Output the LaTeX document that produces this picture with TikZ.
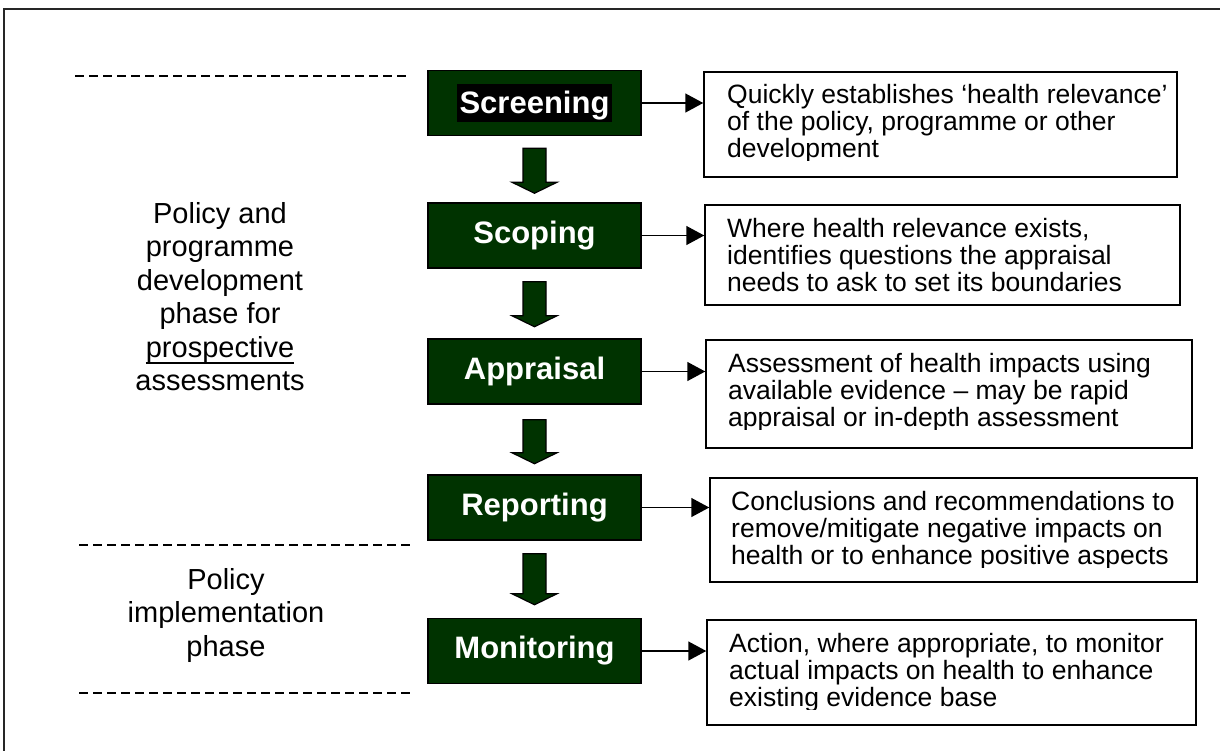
\documentclass[tikz,border=0pt]{standalone}
\usepackage{fontspec}
\setmainfont{Liberation Sans}
\usetikzlibrary{arrows.meta}
\definecolor{dkgreen}{HTML}{003300}
\newsavebox\ulbox
\newcommand\myul[1]{\sbox\ulbox{#1}\rlap{\rule[-7pt]{\wd\ulbox}{2.5pt}}\usebox\ulbox}
\begin{document}
\begin{tikzpicture}[x=1pt,y=-1pt,
  gbox/.style={draw=black, line width=1.5pt, fill=dkgreen, text=white,
    font=\fontsize{31}{36}\selectfont\bfseries, minimum width=213pt,
    minimum height=65pt, inner sep=0pt},
  dbox/.style={draw=black, line width=1.5pt, fill=white, inner sep=0pt},
  dtext/.style={font=\fontsize{26.5}{27}\selectfont, align=left, inner sep=0pt, anchor=base west},
  ltext/.style={font=\fontsize{29}{33.5}\selectfont, align=center, inner sep=0pt, anchor=base},
  harrow/.style={line width=1.5pt, -{Triangle[length=18pt,width=19pt]}},
  darrow/.style={draw=black, line width=1.2pt, fill=dkgreen},
  phase/.style={line width=2pt, dash pattern=on 9pt off 5pt},
  pics/blockarrow/.style={code={
    \path[darrow] (-11.5,0) -- (11.5,0) -- (11.5,#1) -- (22.5,#1) -- (0,#1+11)
      -- (-22.5,#1) -- (-11.5,#1) -- cycle;}}
]
\useasboundingbox (0,0) rectangle (1220,750);
% frame
\draw[line width=2pt, black!85] (4,760) -- (4,9) -- (1240,9);

% phase separators
\draw[phase] (75,76) -- (406,76);
\draw[phase] (79,545) -- (410,545);
\draw[phase] (79,693) -- (410,693);

% left texts (anchor base = baseline of last line)
\node[ltext] (dev) at (220,390.5) {Policy and\\programme\\development\\phase for\\\myul{prospective}\\assessments};
\node[ltext] (impl) at (226,656) {Policy\\implementation\\phase};

% green step boxes
\node[gbox] (scr) at (534.5,103) {\setlength\fboxsep{0pt}\colorbox{black}{\rule[-9pt]{0pt}{38pt}\hspace{3pt}Screening\hspace{3pt}}};
\node[gbox] (sco) at (534.5,235.5) {Scoping};
\node[gbox] (app) at (534.5,371.5) {Appraisal};
\node[gbox] (rep) at (534.5,507.5) {Reporting};
\node[gbox] (mon) at (534.5,651) {Monitoring};

% block arrows
\path (scr.south) ++(0,12) pic {blockarrow=34};
\path (sco.south) ++(0,13) pic {blockarrow=34};
\path (app.south) ++(0,15) pic {blockarrow=33};
\path (rep.south) ++(0,13) pic {blockarrow=40};

% description boxes
\node[dbox, minimum width=473pt, minimum height=105pt] (d1) at (940.5,124.5) {};
\node[dbox, minimum width=475pt, minimum height=100pt] (d2) at (942.5,255) {};
\node[dbox, minimum width=486pt, minimum height=108pt] (d3) at (949,394) {};
\node[dbox, minimum width=487pt, minimum height=104pt] (d4) at (953.5,530) {};
\node[dbox, minimum width=489pt, minimum height=105pt] (d5) at (951.5,672.5) {};

\begin{scope}
\clip (700,60) rectangle (1200,160);
\node[dtext] (t1) at (727,157) {Quickly establishes ‘health relevance’\\of the policy, programme or other\\development};
\end{scope}
\begin{scope}
\clip (700,200) rectangle (1200,295);
\node[dtext] (t2) at (727,291) {Where health relevance exists,\\identifies questions the appraisal\\needs to ask to set its boundaries};
\end{scope}
\begin{scope}
\clip (700,330) rectangle (1200,429);
\node[dtext] (t3) at (728,426) {Assessment of health impacts using\\available evidence – may be rapid\\appraisal or in-depth assessment};
\end{scope}
\begin{scope}
\clip (700,470) rectangle (1200,567);
\node[dtext] (t4) at (731,564) {Conclusions and recommendations to\\remove/mitigate negative impacts on\\health or to enhance positive aspects};
\end{scope}
\begin{scope}
\clip (700,610) rectangle (1200,709);
\node[dtext] (t5) at (729,706) {Action, where appropriate, to monitor\\actual impacts on health to enhance\\existing evidence base};
\end{scope}

% horizontal arrows
\draw[harrow] (scr.east) -- (scr.east -| d1.west);
\draw[harrow] (sco.east) -- (sco.east -| d2.west);
\draw[harrow] (app.east) -- (app.east -| d3.west);
\draw[harrow] (rep.east) -- (rep.east -| d4.west);
\draw[harrow] (mon.east) -- (mon.east -| d5.west);
\end{tikzpicture}
\end{document}
